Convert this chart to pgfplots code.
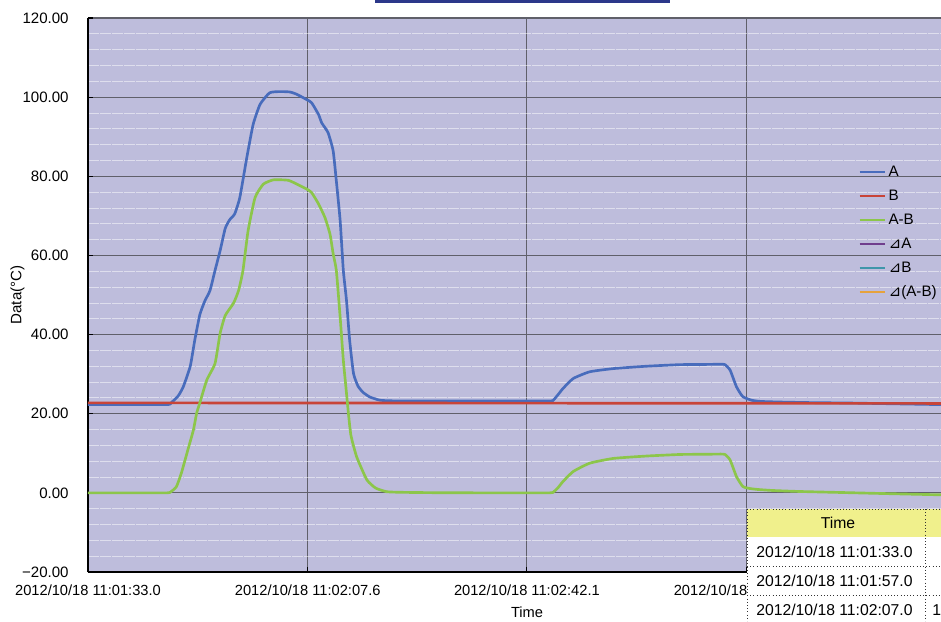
\documentclass[border=0pt]{standalone}
\usepackage{fontspec}
\setmainfont{Liberation Sans}
\newfontfamily\dejavu{DejaVu Sans}
\usepackage{pgfplots}
\pgfplotsset{compat=1.18}
\definecolor{bg}{RGB}{190,189,220}
\definecolor{cA}{RGB}{72,108,188}
\definecolor{cB}{RGB}{200,68,56}
\definecolor{cAB}{RGB}{140,198,74}
\definecolor{cdA}{RGB}{112,62,142}
\definecolor{cdB}{RGB}{62,150,170}
\definecolor{cdAB}{RGB}{230,162,60}
\definecolor{gridc}{RGB}{96,96,106}
\definecolor{hdr}{RGB}{240,240,140}
\definecolor{navy}{RGB}{44,56,138}

\pgfplotstableread{
t v
0 22.3
6 22.3
11.5 22.3
12.5 22.3
12.9 22.4
13.2 22.9
14.2 24.5
15.0 26.8
16.1 32.0
16.8 38.5
17.6 45.0
18.4 48.5
19.2 51.1
20.0 56.2
20.8 61.2
21.6 66.8
22.3 69.0
23.1 70.5
23.9 74.6
25.0 84.7
26.0 93.1
27.1 98.2
28.6 101.1
30.2 101.4
31.8 101.3
32.9 100.7
34.4 99.4
35.2 98.6
36.3 95.6
36.8 93.5
37.8 91.0
38.6 86.4
39.1 78.8
39.7 68.8
40.2 56.2
40.7 48.6
41.2 38.5
41.8 30.2
42.5 27.0
43.3 25.4
44.4 24.2
46.0 23.4
48.0 23.25
52.0 23.2
60.0 23.2
68.0 23.2
71.5 23.2
72.7 23.2
73.2 23.3
74.0 24.8
74.8 26.4
76.4 28.9
79.0 30.6
82.7 31.4
87.9 32.0
93.2 32.4
97.0 32.45
99.6 32.5
100.3 32.4
101.1 31.0
102.1 26.8
103.1 24.3
104.5 23.4
106.0 23.1
109.0 22.95
114.0 22.8
119.9 22.7
127.0 22.5
134.3 22.3
}\dataA

\pgfplotstableread{
t v
0 22.75
134.3 22.6
}\dataB

\pgfplotstableread{
t v
0 0
6 0
11.5 0
12.5 0
12.9 0.1
13.9 1.5
14.7 5.0
15.8 11.3
16.6 15.9
17.1 20.1
17.6 22.7
18.7 28.5
20.0 32.7
20.8 40.3
21.6 44.8
22.9 47.9
23.7 51.1
24.4 56.2
25.2 66.2
26.3 74.6
27.6 78.0
29.2 79.1
31.5 79.0
32.9 78.0
34.4 76.8
35.2 75.9
36.3 73.0
37.3 69.6
38.1 65.4
38.6 60.4
39.1 56.2
39.7 44.4
40.2 33.5
40.5 28.5
41.0 20.1
41.4 14.5
42.3 9.1
43.9 3.3
45.3 1.2
47.0 0.3
49.0 0.15
54.0 0.05
62.0 0
68.0 0
71.5 0
72.7 0
73.2 0.1
74.0 1.3
74.8 2.9
76.4 5.4
79.0 7.5
82.7 8.7
87.9 9.3
93.2 9.7
97.0 9.75
99.6 9.8
100.3 9.7
101.1 8.3
102.1 4.1
103.1 1.6
104.2 1.1
105.5 0.85
107.8 0.6
112.0 0.35
118.4 0.1
126.0 -0.2
134.3 -0.5
}\dataAB

\begin{document}
\begin{tikzpicture}
\useasboundingbox (-66pt,-36.75pt) rectangle (639.75pt,429pt);
\clip (-66pt,-36.75pt) rectangle (639.75pt,429pt);
\begin{axis}[
  at={(0,0)}, anchor=south west,
  scale only axis, width=639.75pt, height=415.5pt,
  xmin=0, xmax=134.3, ymin=-20, ymax=120,
  axis x line*=bottom, axis y line*=left,
  axis line style={-, black, line width=1.3pt},
  every outer x axis line/.append style={-},
  every outer y axis line/.append style={-},
  axis background/.style={fill=bg},
  xtick pos=bottom, ytick pos=left,
  xtick={0,34.6,69.1,103.7},
  xticklabels={2012/10/18 11:01:33.0,2012/10/18 11:02:07.6,2012/10/18 11:02:42.1,2012/10/18\hphantom{\ 11:03:16.7}},
  ytick={-20,0,20,40,60,80,100,120},
  yticklabels={−20.00,0.00,20.00,40.00,60.00,80.00,100.00,120.00},
  minor y tick num=4,
  xmajorgrids, ymajorgrids, yminorgrids,
  major grid style={gridc, line width=0.9pt},
  minor grid style={white, opacity=0.5, dash pattern=on 8pt off 1pt, line width=0.6pt},
  tick style={black, line width=0.9pt},
  major tick length=4pt, minor tick length=0pt,
  tick align=inside,
  xticklabel style={font=\fontsize{11}{13}\selectfont, yshift=-6pt},
  yticklabel style={font=\fontsize{11.3}{13}\selectfont, xshift=-11pt},
  xlabel={Time},
  xlabel style={font=\fontsize{11}{13}\selectfont, at={(rel axis cs:0.5147,0)}, anchor=center, yshift=-30pt},
  ylabel={Data(°C)},
  ylabel style={font=\fontsize{11.3}{13}\selectfont, at={(rel axis cs:-0.0827,0.5)}, anchor=center},
  legend style={at={(0.903,0.745)}, anchor=north west, draw=none, fill=none,
    inner sep=0pt, row sep=0pt, font=\fontsize{11.4}{13}\selectfont,
    nodes={inner xsep=2pt, inner ysep=0pt, text height=12.5pt, text depth=5.5pt}},
  legend cell align=left,
  legend image code/.code={\draw[#1, line width=1.5pt] (0pt,0pt) -- (19pt,0pt);},
]
\addplot[cA, line width=2pt, line join=round, smooth, tension=0.3] table {\dataA};
\addlegendentry{A}
\addplot[cB, line width=2pt] table {\dataB};
\addlegendentry{B}
\addplot[cAB, line width=2pt, line join=round, smooth, tension=0.3] table {\dataAB};
\addlegendentry{A-B}
\addlegendimage{cdA}
\addlegendentry{{\dejavu ⊿}A}
\addlegendimage{cdB}
\addlegendentry{{\dejavu ⊿}B}
\addlegendimage{cdAB}
\addlegendentry{{\dejavu ⊿}(A-B)}
\end{axis}
\begin{scope}[shift={(-66pt,429pt)}, x=0.75pt, y=-0.75pt]
  \fill[navy] (375,0) rectangle (670,3.5);
  \fill[hdr] (747,509) rectangle (941,537);
  \fill[white] (747,537) rectangle (941,621);
  \draw[black!80, line width=0.7pt, dash pattern=on 0.8pt off 1.6pt]
    (747,509) -- (941,509)
    (747,566) -- (941,566)
    (747,595) -- (941,595)
    (747,509) -- (747,621)
    (925,509) -- (925,621);
  \node[font=\fontsize{11.8}{13}\selectfont] at (838,523) {Time};
  \node[font=\fontsize{11.8}{13}\selectfont, anchor=west, inner sep=0pt] at (756,552) {2012/10/18 11:01:33.0};
  \node[font=\fontsize{11.8}{13}\selectfont, anchor=west, inner sep=0pt] at (756,581) {2012/10/18 11:01:57.0};
  \node[font=\fontsize{11.8}{13}\selectfont, anchor=west, inner sep=0pt] at (756,610) {2012/10/18 11:02:07.0};
  \node[font=\fontsize{11.8}{13}\selectfont, anchor=west, inner sep=0pt] at (932,610) {1};
\end{scope}
\end{tikzpicture}
\end{document}
